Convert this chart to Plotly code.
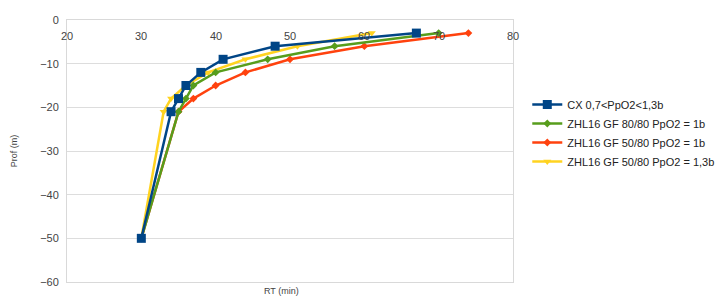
import plotly.graph_objects as go

# Depth stops (m) shared by all profiles
depths = [-50, -21, -18, -15, -12, -9, -6, -3]

cx_rt = [30, 34, 35, 36, 38, 41, 48, 67]
zhl_80_80_1b_rt = [30, 35, 36, 37, 40, 47, 56, 70]
zhl_50_80_1b_rt = [30, 35, 37, 40, 44, 50, 60, 74]
zhl_50_80_13b_rt = [30, 33, 34, 36, 39, 44, 51, 61]

series_names = [
    "CX 0,7<PpO2<1,3b",
    "ZHL16 GF 80/80 PpO2 = 1b",
    "ZHL16 GF 50/80 PpO2 = 1b",
    "ZHL16 GF 50/80 PpO2 = 1,3b",
]

x_ticks = [20, 30, 40, 50, 60, 70, 80]
y_ticks = [0, -10, -20, -30, -40, -50, -60]

colors = ["#004586", "#579d1c", "#ff420e", "#ffd320"]
symbols = ["square", "diamond", "diamond", "triangle-down"]
sizes = [9, 6, 6, 7]
xs = [cx_rt, zhl_80_80_1b_rt, zhl_50_80_1b_rt, zhl_50_80_13b_rt]

fig = go.Figure()
# draw in reverse so CX lies on top, legend order kept via legendrank
for i in [3, 2, 1, 0]:
    fig.add_trace(go.Scatter(
        x=xs[i], y=depths, name=series_names[i], mode="lines+markers",
        line=dict(color=colors[i], width=2.5),
        marker=dict(symbol=symbols[i], size=sizes[i], color=colors[i]),
        legendrank=i + 1,
    ))

font = "Liberation Sans, Arial, sans-serif"
fig.update_layout(
    width=721, height=298,
    margin=dict(l=67, r=208, t=20, b=16, autoexpand=False),
    paper_bgcolor="white", plot_bgcolor="white",
    font=dict(family=font, size=11, color="#333333"),
    showlegend=True,
    legend=dict(xref="container", yref="container", x=0.999, y=0.698,
                xanchor="right", yanchor="top",
                font=dict(size=11, color="#222222"), itemwidth=30,
                tracegroupgap=0, bgcolor="rgba(0,0,0,0)"),
    xaxis=dict(range=[20, 80], tickvals=x_ticks, showticklabels=False,
               showgrid=False, zeroline=False, automargin=False,
               showline=True, linecolor="#d9d9d9", linewidth=1, mirror=True),
    yaxis=dict(range=[-60, 0], tickvals=y_ticks, showgrid=True, automargin=False,
               gridcolor="#dddddd", zeroline=False, showline=True,
               linecolor="#d9d9d9", linewidth=1, mirror=True,
               ticklabelstandoff=5,
               tickfont=dict(size=11, color="#444444"),
               title=dict(text="Prof (m)", font=dict(size=9, color="#444444"), standoff=20)),
)
# x tick labels sit just below the y=0 axis line (axis crosses at 0)
for t in x_ticks:
    fig.add_annotation(text=str(t), x=t, y=0, xref="x", yref="y",
                       yanchor="top", yshift=-8, showarrow=False,
                       font=dict(size=11, color="#444444"))
fig.add_annotation(text="RT (min)", x=0.48, y=0, xref="paper", yref="paper",
                   yanchor="top", yshift=-2, showarrow=False,
                   font=dict(size=9, color="#444444"))

fig.write_html("out.html", config={"displayModeBar": False},
               post_script="document.body.style.margin='0';")
